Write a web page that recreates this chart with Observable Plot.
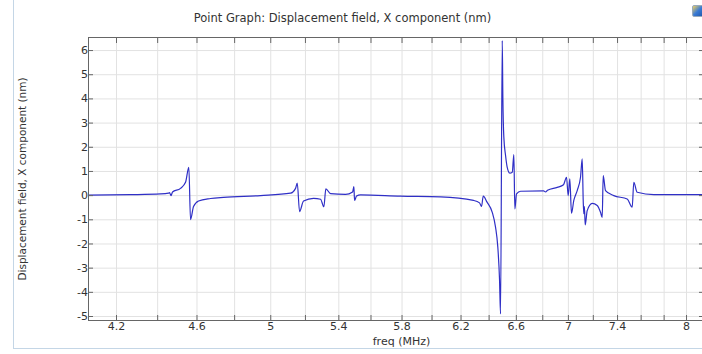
<!DOCTYPE html>
<html>
<head>
<meta charset="utf-8">
<script src="https://cdn.jsdelivr.net/npm/d3@7"></script>
<script src="https://cdn.jsdelivr.net/npm/@observablehq/plot@0.6"></script>
<style>
  html, body { margin: 0; padding: 0; background: #fff; overflow: hidden; }
  #wrap { position: relative; width: 702px; height: 354px; }
  #panelL { position: absolute; left: 13px; top: 0; width: 1px; height: 349px; background: #c4d6e6; }
  #panelB { position: absolute; left: 13px; top: 348px; width: 689px; height: 1px; background: #c4d6e6; }
  #icon { position: absolute; left: 692px; top: 5px; width: 12px; height: 10px; border-radius: 2px;
          background: linear-gradient(135deg, #f0d060 0%, #3a7bd5 45%, #1a4fa0 100%); border: 1px solid #9ab; }
</style>
</head>
<body>
<div id="wrap"><div id="chart"></div><div id="panelL"></div><div id="panelB"></div><div id="icon"></div></div>
<script>
// Frequency (MHz)
const freq = [4.0691, 4.267, 4.414, 4.454, 4.4594, 4.467, 4.4746, 4.5152, 4.5408, 4.5578, 4.5665, 4.582, 4.608, 4.6709, 4.7401, 4.9426,
  5.1132, 5.1422, 5.1521, 5.1655, 5.1889, 5.2479, 5.2896, 5.3094, 5.3214, 5.3498, 5.4413, 5.4846, 5.4926, 5.4969, 5.5094, 5.5343, 5.7903, 6.0582,
  6.2882, 6.331, 6.3453, 6.3576, 6.385, 6.4227, 6.4465, 6.4632, 6.4759, 6.483, 6.4957, 6.5001, 6.5073, 6.52, 6.5323, 6.5517, 6.5695, 6.5814, 6.5888,
  6.6015, 6.6315, 6.806, 6.8214, 6.8368, 6.9121, 6.9614, 6.9851, 6.9985, 7.0112, 7.0246, 7.0429, 7.0701, 7.0965, 7.1101, 7.1182, 7.123, 7.1279, 7.1343,
  7.1504, 7.191, 7.2317, 7.2588, 7.2727, 7.281, 7.2999, 7.3686, 7.4811, 7.5235, 7.5371, 7.5661, 7.7095, 8.1458];
// Displacement field, X component (nm)
const dispX = [0.02, 0.04, 0.07, 0.1, 0.12, 0.0, 0.15, 0.3, 0.55, 1.17, -0.99, -0.45, -0.22, -0.12, -0.07, 0.0,
  0.1, 0.3, 0.52, -0.66, -0.22, -0.11, -0.15, -0.46, 0.28, 0.08, 0.05, 0.15, 0.37, -0.2, -0.02, 0.03, -0.02, -0.05,
  -0.2, -0.3, -0.45, -0.02, -0.27, -0.69, -1.3, -2.13, -3.5, -4.89, 6.41, 4.07, 2.42, 1.66, 1.17, 0.93, 0.97, 1.7, -0.55,
  0.07, 0.18, 0.2, 0.15, 0.22, 0.34, 0.45, 0.76, 0.0, 0.69, -0.73, -0.2, 0.21, 0.76, 1.52, -0.2, -0.75, -0.45, -1.21,
  -0.62, -0.32, -0.41, -0.69, -0.9, 0.83, 0.21, 0.0, -0.14, -0.48, 0.55, 0.14, 0.04, 0.04];

const xTicks = [4.2, 4.4, 4.6, 4.8, 5.0, 5.2, 5.4, 5.6, 5.8, 6.0, 6.2, 6.4, 6.6, 6.8, 7.0, 7.2, 7.4, 7.6, 7.8, 8.0];
const xTickLabels = [4.2, 4.6, 5, 5.4, 5.8, 6.2, 6.6, 7, 7.4, 8];
const yTicks = [-5, -4, -3, -2, -1, 0, 1, 2, 3, 4, 5, 6];

const titleText = "Point Graph: Displacement field, X component (nm)";
const xLabel = "freq (MHz)";
const yLabel = "Displacement field, X component (nm)";

const data = freq.map((f, i) => ({f, v: dispX[i]}));

const chart = Plot.plot({
  width: 702,
  height: 354,
  marginLeft: 88,
  marginRight: 0,
  marginTop: 37,
  marginBottom: 34,
  style: {fontFamily: "DejaVu Sans, sans-serif", fontSize: "11px", color: "#333", background: "transparent"},
  x: {type: "log", domain: [4.0691, 8.1458], label: null},
  y: {domain: [-5.165, 6.54], label: null},
  marks: [
    Plot.gridX(xTicks, {stroke: "#e2e2e2", strokeOpacity: 1}),
    Plot.gridY(yTicks, {stroke: "#e2e2e2", strokeOpacity: 1}),
    Plot.line(data, {x: "f", y: "v", stroke: "#2f2fc6", strokeWidth: 1.2, curve: "monotone-x"}),
    Plot.frame({stroke: "#666"}),
    Plot.axisX(xTicks, {anchor: "bottom", tickSize: -5, tickFormat: () => "", stroke: "#666", label: null}),
    Plot.axisX(xTicks, {anchor: "top", tickSize: -5, tickFormat: () => "", stroke: "#666", label: null}),
    Plot.axisX(xTickLabels, {anchor: "bottom", tickSize: 0, tickPadding: 2, tickFormat: d => String(d), fill: "#333", label: null}),
    Plot.axisY(yTicks, {anchor: "left", tickSize: -5, tickPadding: 5.5, tickFormat: d => String(d), stroke: "#666", fill: "#333", label: null}),
    Plot.axisY(yTicks, {anchor: "right", tickSize: -4, tickFormat: () => "", stroke: "#666", label: null}),
    Plot.text([xLabel], {frameAnchor: "bottom", dx: 6, dy: 21, lineAnchor: "middle", textAnchor: "middle", fill: "#333", fontSize: 11}),
    Plot.text([yLabel], {frameAnchor: "left", rotate: -90, dx: -66, lineAnchor: "middle", textAnchor: "middle", fill: "#333", fontSize: 10.5}),
    Plot.text([titleText], {frameAnchor: "top", dx: -53, dy: -19, lineAnchor: "middle", textAnchor: "middle", fill: "#333", fontSize: 11.5})
  ]
});
document.getElementById("chart").appendChild(chart);
</script>
</body>
</html>
